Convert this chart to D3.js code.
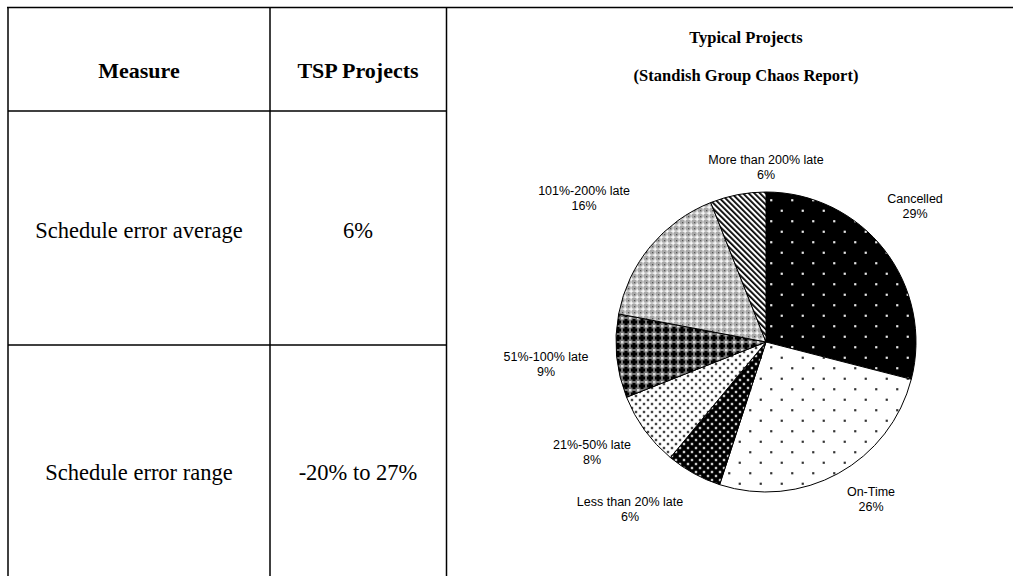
<!DOCTYPE html>
<html>
<head>
<meta charset="utf-8">
<script src="https://cdn.jsdelivr.net/npm/d3@7"></script>
<style>
    body { margin: 0; background: #fff; }
    svg { display: block; }
    .cell { font-family: "Liberation Serif", "Times New Roman", serif; fill: #000; }
    .lbl { font-family: "Liberation Sans", Arial, sans-serif; font-size: 12.5px; fill: #000; }
</style>
</head>
<body>
<svg id="chart" width="1013" height="576"></svg>
<script>
// table contents
var headers = ["Measure", "TSP Projects"];
var measures = ["Schedule error average", "Schedule error range"];
var tspValues = ["6%", "-20% to 27%"];

// pie: Standish Group Chaos Report
var categories = ["Cancelled", "On-Time", "Less than 20% late", "21%-50% late",
    "51%-100% late", "101%-200% late", "More than 200% late"];
var shares = [29, 26, 6, 8, 9, 16, 6];
var titles = ["Typical Projects", "(Standish Group Chaos Report)"];

// label placement relative to pie centre (layout only)
var labelOffsets = [[149, -137], [105, 156], [-136, 166], [-174, 109],
    [-220, 21], [-182, -145], [0, -176]];

var svg = d3.select("#chart");
var W = 1013, H = 576;

// ---- patterns ----
var defs = svg.append("defs");

function newPattern(id, w, h, bg) {
    var p = defs.append("pattern").attr("id", id)
        .attr("patternUnits", "userSpaceOnUse")
        .attr("width", w).attr("height", h);
    p.append("rect").attr("width", w).attr("height", h).attr("fill", bg);
    return p;
}
function box(p, x, y, w, h, c) {
    p.append("rect").attr("x", x).attr("y", y).attr("width", w).attr("height", h).attr("fill", c);
}
function dotPattern(id, size, bg, dot, r) {
    var p = newPattern(id, size, size, bg);
    [[size / 4, size / 4], [size * 3 / 4, size * 3 / 4]].forEach(function(c) {
        box(p, c[0] - r, c[1] - r, r * 2, r * 2, dot);
    });
}
dotPattern("p0", 21, "#000", "#e8e8e8", 1.1);
dotPattern("p1", 21, "#fff", "#333", 1.1);
dotPattern("p2", 8, "#000", "#ccc", 1.2);
dotPattern("p3", 8, "#fff", "#444", 1.2);

// dark checker
(function() {
    var p = newPattern("p4", 8, 8, "#777");
    box(p, 2.5, 1, 3, 6, "#000");
    box(p, 1, 2.5, 6, 3, "#000");
    box(p, 0, 0, 1.5, 1.5, "#ddd");
    box(p, 7, 7, 1, 1, "#ddd");
    box(p, 7, 0, 1, 1.5, "#ddd");
    box(p, 0, 7, 1.5, 1, "#ddd");
})();

// light checker
(function() {
    var p = newPattern("p5", 6, 6, "#a8a8a8");
    box(p, 2.5, 0.5, 1.2, 5, "#fff");
    box(p, 0.5, 2.5, 5, 1.2, "#fff");
    box(p, 0, 0, 1.2, 1.2, "#555");
})();

// diagonal stripes
(function() {
    var p = newPattern("p6", 4, 4, "#fff").attr("patternTransform", "rotate(-45)");
    box(p, 0, 0, 1.8, 4, "#000");
})();

// ---- table grid ----
var colX = [8, 270, 446.5];
var rowY = [7.5, 111, 345];

var grid = svg.append("g").attr("stroke", "#000").attr("stroke-width", 1.5);
grid.append("line").attr("x1", 7).attr("x2", W).attr("y1", rowY[0]).attr("y2", rowY[0]);
grid.selectAll("line.v").data(colX).enter().append("line")
    .attr("class", "v")
    .attr("x1", function(d) { return d; }).attr("x2", function(d) { return d; })
    .attr("y1", rowY[0]).attr("y2", H);
grid.selectAll("line.h").data(rowY.slice(1)).enter().append("line")
    .attr("class", "h")
    .attr("x1", colX[0]).attr("x2", colX[2])
    .attr("y1", function(d) { return d; }).attr("y2", function(d) { return d; });

var colMid = [139, 358];
var rowMid = [70, 230, 472];

svg.selectAll("text.hdr").data(headers).enter().append("text")
    .attr("class", "cell hdr")
    .attr("x", function(d, i) { return colMid[i]; })
    .attr("y", rowMid[0])
    .attr("text-anchor", "middle").attr("dominant-baseline", "central")
    .style("font-size", "22px").style("font-weight", "bold")
    .text(function(d) { return d; });

measures.forEach(function(m, i) {
    svg.append("text").attr("class", "cell")
        .attr("x", colMid[0]).attr("y", rowMid[i + 1])
        .attr("text-anchor", "middle").attr("dominant-baseline", "central")
        .style("font-size", "22.5px")
        .text(m);
    svg.append("text").attr("class", "cell")
        .attr("x", colMid[1]).attr("y", rowMid[i + 1])
        .attr("text-anchor", "middle").attr("dominant-baseline", "central")
        .style("font-size", "22.5px")
        .text(tspValues[i]);
});

svg.selectAll("text.ttl").data(titles).enter().append("text")
    .attr("class", "cell ttl")
    .attr("x", 746)
    .attr("y", function(d, i) { return 37 + i * 38; })
    .attr("text-anchor", "middle").attr("dominant-baseline", "central")
    .style("font-size", "16.5px").style("font-weight", "bold")
    .text(function(d) { return d; });

// ---- pie ----
var cx = 766, cy = 342, R = 150;
var pie = d3.pie().sort(null).value(function(d) { return d; });
var arc = d3.arc().innerRadius(0).outerRadius(R);
var arcs = pie(shares);

var g = svg.append("g").attr("transform", "translate(" + cx + "," + cy + ")");
g.selectAll("path").data(arcs).enter().append("path")
    .attr("d", arc)
    .attr("fill", function(d, i) { return "url(#p" + i + ")"; })
    .attr("stroke", "#000").attr("stroke-width", 1);

var lbl = g.selectAll("text.lbl").data(arcs).enter().append("text")
    .attr("class", "lbl")
    .attr("text-anchor", "middle")
    .attr("transform", function(d, i) {
        return "translate(" + labelOffsets[i][0] + "," + labelOffsets[i][1] + ")";
    });
lbl.append("tspan").attr("x", 0).attr("dy", "-0.15em")
    .text(function(d, i) { return categories[i]; });
lbl.append("tspan").attr("x", 0).attr("dy", "1.2em")
    .text(function(d) { return d.data + "%"; });
</script>
</body>
</html>
